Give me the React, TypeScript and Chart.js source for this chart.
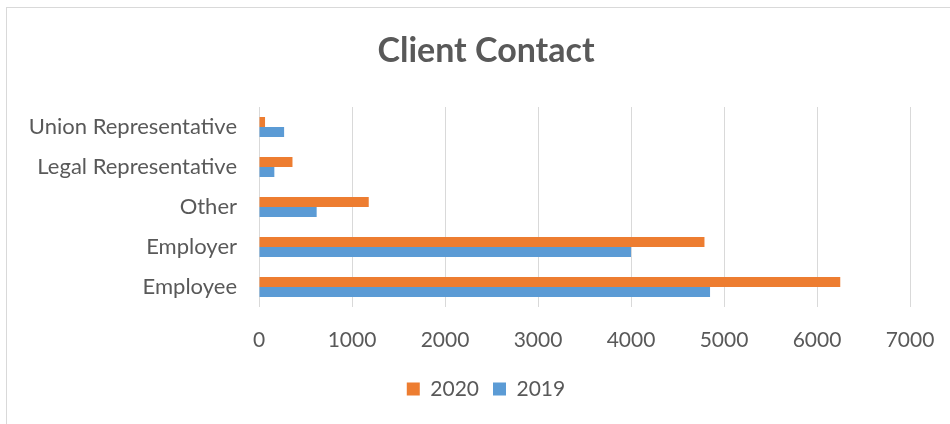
import React, { useEffect, useRef } from "react";
import { Chart, registerables } from "chart.js";

Chart.register(...registerables);

const categories = [
  "Union Representative",
  "Legal Representative",
  "Other",
  "Employer",
  "Employee",
];
const values2020 = [65, 360, 1180, 4790, 6250];
const values2019 = [270, 165, 620, 4000, 4850];
const seriesNames = ["2020", "2019"];
const xTicks = [0, 1000, 2000, 3000, 4000, 5000, 6000, 7000];

const FONT = "Lato, 'Open Sans', sans-serif";
const TEXT = "#595959";
const PAD_LEFT = 22;

export default function App() {
  const ref = useRef<HTMLCanvasElement | null>(null);

  useEffect(() => {
    document.body.style.margin = "0";
    const ctx = ref.current!;
    const chart = new Chart(ctx, {
      type: "bar",
      data: {
        labels: categories,
        datasets: [
          {
            label: seriesNames[0],
            data: values2020,
            backgroundColor: "#ED7D31",
            categoryPercentage: 0.5,
            barPercentage: 1,
          },
          {
            label: seriesNames[1],
            data: values2019,
            backgroundColor: "#5B9BD5",
            categoryPercentage: 0.5,
            barPercentage: 1,
          },
        ],
      },
      options: {
        indexAxis: "y",
        animation: false,
        responsive: false,
        maintainAspectRatio: false,
        layout: { padding: { left: PAD_LEFT, right: 0, top: 31, bottom: 14.5 } },
        plugins: {
          title: {
            display: true,
            text: "Client Contact",
            color: TEXT,
            font: { family: FONT, size: 34, weight: "bold" },
            padding: { top: 0, bottom: 35.2 },
          },
          legend: {
            position: "bottom",
            labels: {
              color: TEXT,
              font: { family: FONT, size: 21 },
              boxWidth: 13,
              boxHeight: 13,
              padding: 14,
            },
          },
          tooltip: { enabled: false },
        },
        scales: {
          x: {
            min: 0,
            max: 7000,
            afterBuildTicks: (scale: any) => {
              scale.ticks = xTicks.map((v) => ({ value: v }));
            },
            afterFit: (scale: any) => {
              scale.height = 57.5;
            },
            grid: { color: "#d9d9d9", lineWidth: 1, drawTicks: false },
            border: { display: false },
            ticks: {
              color: TEXT,
              font: { family: FONT, size: 21, lineHeight: 1.8 },
              padding: 14,
              maxRotation: 0,
              callback: (v: any) => String(v),
            },
          },
          y: {
            grid: { display: false, drawTicks: false },
            border: { display: false },
            afterFit: (scale: any) => {
              scale.width = 259 - PAD_LEFT;
            },
            ticks: {
              color: TEXT,
              font: { family: FONT, size: 22 },
              padding: 22,
            },
          },
          yRight: {
            type: "category",
            position: "right",
            display: true,
            grid: { display: false, drawTicks: false },
            border: { display: false },
            ticks: { display: false },
            afterFit: (scale: any) => {
              scale.width = 40;
            },
          },
        },
      },
    });
    return () => chart.destroy();
  }, []);

  return (
    <div style={{ position: "fixed", left: 0, top: 0, width: 950, height: 424, background: "#fff" }}>
      <div
        style={{
          position: "absolute",
          left: 6,
          top: 7,
          right: -2,
          bottom: -2,
          border: "1px solid #d9d9d9",
          boxSizing: "border-box",
        }}
      />
      <canvas ref={ref} width={950} height={424} style={{ position: "absolute", left: 0, top: 0 }} />
    </div>
  );
}
